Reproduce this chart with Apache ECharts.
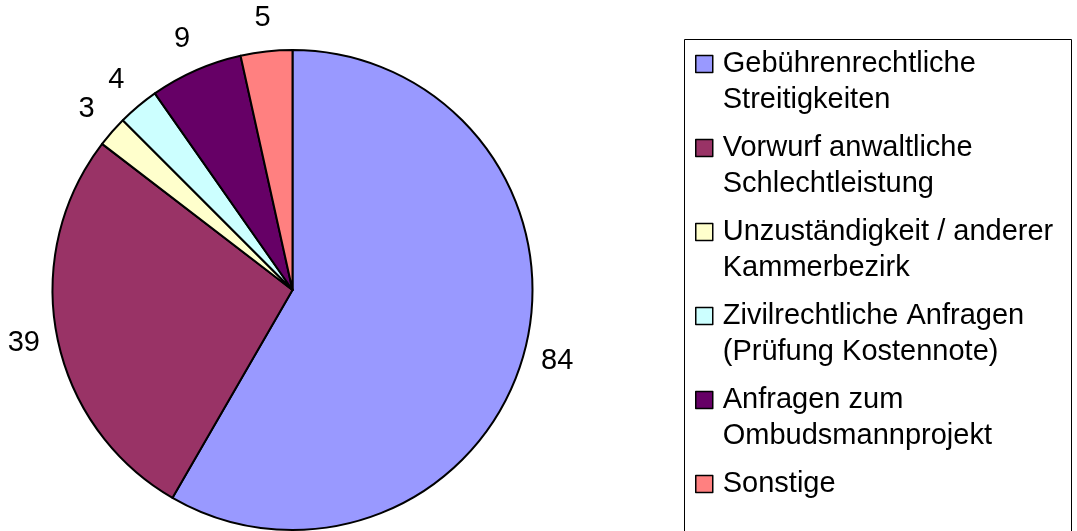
<!DOCTYPE html>
<html>
<head>
<meta charset="utf-8">
<script src="https://cdn.jsdelivr.net/npm/echarts@6/dist/echarts.min.js"></script>
<style>
html,body{margin:0;padding:0;background:#fff;}
#c{width:1077px;height:531px;}
</style>
</head>
<body>
<div id="c"></div>
<script>
const categories = [
  "Gebührenrechtliche Streitigkeiten",
  "Vorwurf anwaltliche Schlechtleistung",
  "Unzuständigkeit / anderer Kammerbezirk",
  "Zivilrechtliche Anfragen (Prüfung Kostennote)",
  "Anfragen zum Ombudsmannprojekt",
  "Sonstige"
];
const legendLines = [
  ["Gebührenrechtliche", "Streitigkeiten"],
  ["Vorwurf anwaltliche", "Schlechtleistung"],
  ["Unzuständigkeit / anderer", "Kammerbezirk"],
  ["Zivilrechtliche Anfragen", "(Prüfung Kostennote)"],
  ["Anfragen zum", "Ombudsmannprojekt"],
  ["Sonstige"]
];
const values = [84, 39, 3, 4, 9, 5];
const colors = ["#9999FF", "#993366", "#FFFFCC", "#CCFFFF", "#660066", "#FF8080"];

const FONT = '"Liberation Sans", Arial, sans-serif';
const FS = 29;

const chart = echarts.init(document.getElementById('c'));
const data = categories.map((name, i) => {
  const half = String(values[i]).length * 0.556 * FS / 2;
  return {
    name: name,
    value: values[i],
    itemStyle: { color: colors[i] },
    label: { distanceToLabelLine: -half }
  };
});

chart.setOption({
  animation: false,
  backgroundColor: '#fff',
  graphic: [{
    type: 'rect',
    shape: { x: 684.5, y: 39.5, width: 387, height: 600 },
    style: { fill: 'none', stroke: '#000', lineWidth: 1 },
    z: 0
  }],
  legend: {
    orient: 'vertical',
    left: 695,
    top: 10,
    width: 380,
    height: 1000,
    padding: 0,
    itemGap: -24,
    itemWidth: 17,
    itemHeight: 17,
    icon: 'rect',
    selectedMode: false,
    itemStyle: { borderColor: '#000', borderWidth: 1.5 },
    textStyle: {
      fontFamily: FONT,
      fontSize: FS,
      lineHeight: 36,
      color: '#000',
      padding: [0, 0, 0, 5]
    },
    formatter: function (name) {
      const idx = categories.indexOf(name);
      const lines = legendLines[idx];
      return '\n' + lines.join('\n') + (lines.length === 1 ? '\n ' : '');
    },
    data: categories
  },
  series: [{
    type: 'pie',
    center: [292.5, 290],
    radius: 240,
    startAngle: 90,
    clockwise: true,
    avoidLabelOverlap: false,
    itemStyle: { borderColor: '#000', borderWidth: 2 },
    emphasis: { disabled: true },
    label: {
      show: true,
      position: 'outside',
      formatter: '{c}',
      fontFamily: FONT,
      fontSize: FS,
      color: '#000'
    },
    labelLine: { show: false, length: 34, length2: 0 },
    data: data
  }]
});
</script>
</body>
</html>
